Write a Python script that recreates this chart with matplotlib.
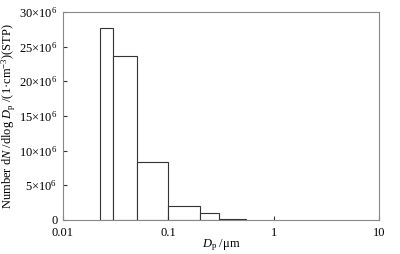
import matplotlib
matplotlib.use("Agg")
import matplotlib.pyplot as plt

plt.rcParams['font.family'] = ['Liberation Serif', 'DejaVu Serif']
plt.rcParams['mathtext.fontset'] = 'custom'
plt.rcParams['mathtext.rm'] = 'Liberation Serif'
plt.rcParams['mathtext.it'] = 'Liberation Serif:italic'

# size bins (um) and number concentration per bin
bin_left = [0.0225, 0.03, 0.05, 0.1, 0.2, 0.3]
bin_right = [0.03, 0.05, 0.1, 0.2, 0.3, 0.55]
counts = [27.7e6, 23.6e6, 8.3e6, 2.07e6, 0.97e6, 0.18e6]

y_ticks = [0, 5e6, 10e6, 15e6, 20e6, 25e6, 30e6]
y_labels = ['0', r'5×10$^{6}$', r'10×10$^{6}$', r'15×10$^{6}$',
            r'20×10$^{6}$', r'25×10$^{6}$', r'30×10$^{6}$']
x_ticks = [0.01, 0.1, 1, 10]
x_labels = ['0.01', '0.1', '1', '10']

fig = plt.figure(figsize=(4.0, 2.54), dpi=100)
ax = fig.add_axes([0.1575, 0.134, 0.79, 0.819])

widths = [r - l for l, r in zip(bin_left, bin_right)]
ax.bar(bin_left, counts, width=widths, align='edge', facecolor='white',
       edgecolor='#333333', linewidth=0.8)

ax.set_xscale('log')
ax.set_xlim(0.01, 10)
ax.set_ylim(0, 30e6)
ax.set_xticks(x_ticks)
ax.set_xticklabels(x_labels)
ax.minorticks_off()
ax.set_yticks(y_ticks)
ax.set_yticklabels(y_labels)

ax.tick_params(direction='in', length=3, width=0.8, labelsize=9,
               color='#333333', pad=4)
ax.tick_params(axis='x', pad=5)
for s in ax.spines.values():
    s.set_color('#888888')
    s.set_linewidth(0.8)

ax.set_xlabel(r'$D_{\mathrm{p}}$ /μm', fontsize=9, labelpad=-1)
ax.set_ylabel(r'Number d$N$ /dlog $D_{\mathrm{p}}$ /(1·cm$^{-3}$)(STP)',
              fontsize=9, labelpad=1)

fig.savefig('out.png', dpi=100)
